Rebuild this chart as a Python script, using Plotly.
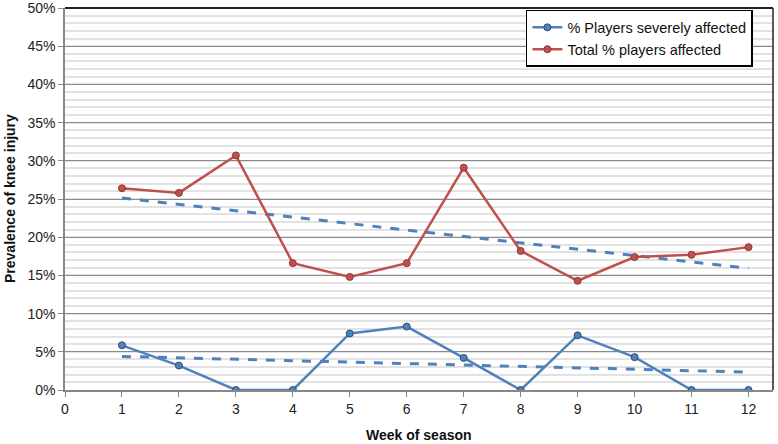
import numpy as np
import plotly.graph_objects as go

weeks = [1, 2, 3, 4, 5, 6, 7, 8, 9, 10, 11, 12]
severe = [5.85, 3.2, 0, 0, 7.4, 8.3, 4.2, 0, 7.15, 4.3, 0, 0]
total = [26.4, 25.8, 30.7, 16.6, 14.8, 16.6, 29.1, 18.2, 14.3, 17.4, 17.7, 18.7]
x_ticks = list(range(0, 13))
y_ticks = list(range(0, 51, 5))
y_labels = [f"{v}%" for v in y_ticks]

blue = "#4F81BD"
red = "#C0504D"

def trend(xs, ys):
    m, b = np.polyfit(xs, ys, 1)
    return [m * x + b for x in xs]

fig = go.Figure()
fig.add_trace(go.Scatter(
    x=weeks, y=trend(weeks, total), mode="lines",
    line=dict(color=blue, width=3, dash="dash"), showlegend=False, hoverinfo="skip"))
fig.add_trace(go.Scatter(
    x=weeks, y=trend(weeks, severe), mode="lines",
    line=dict(color=blue, width=3, dash="dash"), showlegend=False, hoverinfo="skip"))
fig.add_trace(go.Scatter(
    x=weeks, y=severe, mode="lines+markers", name="% Players severely affected",
    line=dict(color=blue, width=2.5),
    marker=dict(size=7, color=blue, line=dict(color="#2C4D75", width=1))))
fig.add_trace(go.Scatter(
    x=weeks, y=total, mode="lines+markers", name="Total % players affected",
    line=dict(color=red, width=2.5),
    marker=dict(size=7, color=red, line=dict(color="#8C3836", width=1))))

fig.update_layout(
    width=778, height=444,
    margin=dict(l=65, r=5, t=8, b=54),
    plot_bgcolor="white", paper_bgcolor="white",
    font=dict(family="Liberation Sans, Arial, sans-serif", size=14, color="#222"),
    legend=dict(x=0.651, y=0.995, xanchor="left", yanchor="top",
                bgcolor="white", bordercolor="black", borderwidth=1.5,
                font=dict(size=14.5, color="#111"), tracegroupgap=0),
    xaxis=dict(range=[0, 12.43], tickvals=x_ticks, ticktext=[str(v) for v in x_ticks],
               showgrid=False, zeroline=False, showline=True, linecolor="#888", linewidth=1.5,
               ticks="outside", ticklen=5, tickcolor="#888", automargin=False),
    yaxis=dict(range=[0, 50], tickvals=y_ticks, ticktext=y_labels,
               showgrid=True, gridcolor="#8a8a8a", gridwidth=1.3,
               minor=dict(dtick=1, showgrid=True, gridcolor="#e2e2e2", gridwidth=1.5),
               zeroline=False, showline=True, linecolor="#888", linewidth=1.5,
               ticks="outside", ticklen=5, tickcolor="#888", automargin=False,
               ticklabeloverflow="allow"),
)
fig.add_annotation(text="<b>Week of season</b>", xref="paper", yref="paper",
                   x=0.5, y=0, yshift=-45, xanchor="center", yanchor="middle",
                   showarrow=False, font=dict(size=14, color="#111"))
fig.add_annotation(text="<b>Prevalence of knee injury</b>", xref="paper", yref="paper",
                   x=0, xshift=-55, y=0.5, xanchor="center", yanchor="middle", textangle=-90,
                   showarrow=False, font=dict(size=14, color="#111"))
fig.add_shape(type="line", xref="paper", yref="paper", x0=0, x1=1, y0=1, y1=1,
              line=dict(color="#222", width=2))
fig.add_shape(type="line", xref="paper", yref="paper", x0=1, x1=1, y0=0, y1=1,
              line=dict(color="#222", width=1.5))

fig.write_html("out.html", config={"displayModeBar": False},
               post_script="document.body.style.margin='0';")
